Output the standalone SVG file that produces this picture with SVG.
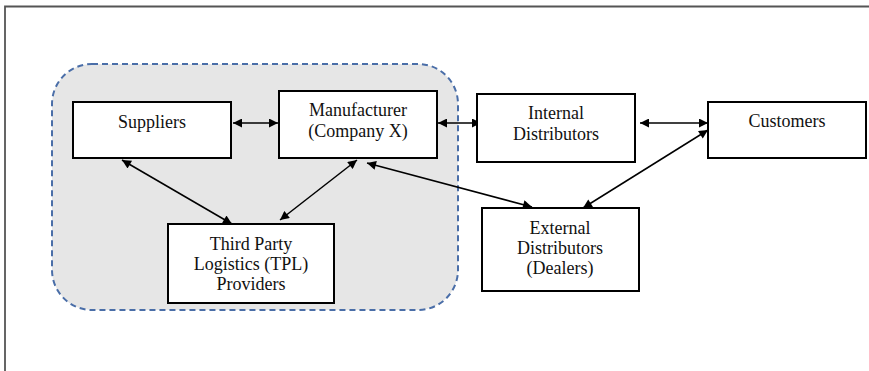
<svg xmlns="http://www.w3.org/2000/svg" width="869" height="371" viewBox="0 0 869 371">
<defs>
<style>
.box{fill:#fff;stroke:#000;stroke-width:2}
.t{font-family:"Liberation Serif","Times New Roman",serif;font-size:18px;fill:#111;text-anchor:middle}
.c{stroke:#000;stroke-width:1.5;fill:none;marker-start:url(#ah);marker-end:url(#ah)}
</style>
<marker id="ah" viewBox="0 0 10 10" refX="10" refY="5" markerWidth="11" markerHeight="9" markerUnits="userSpaceOnUse" orient="auto-start-reverse">
<path d="M0,0 L10,5 L0,10 z" fill="#000"/>
</marker>
</defs>
<rect width="869" height="371" fill="#fff"/>
<path d="M5,371 V6.5 H869" fill="none" stroke="#555" stroke-width="1.8"/>
<g id="group">
<rect x="52" y="64" width="406" height="246" rx="40" ry="40" fill="#e6e6e6" stroke="#4a6ea8" stroke-width="2" stroke-dasharray="6,4"/>
</g>
<g id="connectors">
<line class="c" x1="233" y1="123" x2="278" y2="123"/>
<line class="c" x1="438" y1="123" x2="481" y2="123"/>
<line class="c" x1="640" y1="123" x2="708" y2="123"/>
<line class="c" x1="708" y1="130" x2="583" y2="208"/>
<line class="c" x1="367" y1="163" x2="532" y2="207"/>
<line class="c" x1="122" y1="160" x2="232" y2="224"/>
<line class="c" x1="357" y1="160" x2="280" y2="220"/>
</g>
<g id="suppliers">
<rect class="box" x="73" y="102" width="158" height="56"/>
<text class="t" x="152" y="128">Suppliers</text>
</g>
<g id="manufacturer">
<rect class="box" x="279" y="91" width="158" height="67"/>
<text class="t" x="358" y="116">Manufacturer</text>
<text class="t" x="358" y="137">(Company X)</text>
</g>
<g id="tpl">
<rect class="box" x="168" y="224" width="166" height="79"/>
<text class="t" x="251" y="250">Third Party</text>
<text class="t" x="251" y="270">Logistics (TPL)</text>
<text class="t" x="251" y="290">Providers</text>
</g>
<g id="internal">
<rect class="box" x="477" y="94" width="158" height="68"/>
<text class="t" x="556" y="119">Internal</text>
<text class="t" x="556" y="140">Distributors</text>
</g>
<g id="customers">
<rect class="box" x="708" y="102" width="158" height="56"/>
<text class="t" x="787" y="127">Customers</text>
</g>
<g id="external">
<rect class="box" x="482" y="208" width="157" height="83"/>
<text class="t" x="560" y="234">External</text>
<text class="t" x="560" y="254">Distributors</text>
<text class="t" x="560" y="274">(Dealers)</text>
</g>
</svg>
